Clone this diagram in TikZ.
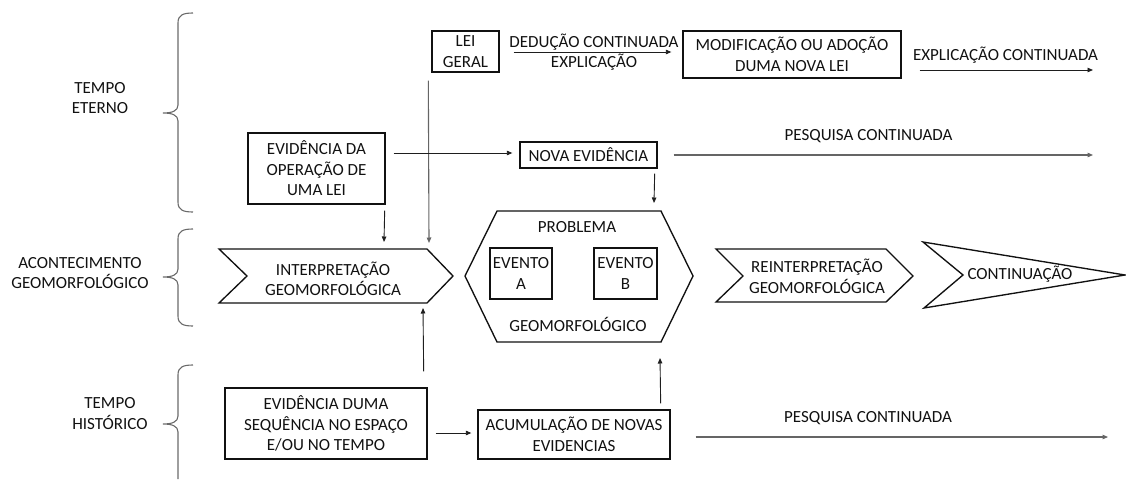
\documentclass[tikz,border=0pt]{standalone}
\usepackage{fontspec}
\setmainfont{Carlito}
\usetikzlibrary{arrows.meta,calc}

\definecolor{ink}{HTML}{111111}
\definecolor{wire}{HTML}{1E1E1E}
\definecolor{softwire}{HTML}{656565}
\definecolor{bracecol}{HTML}{6A6A6A}

% curly brace opening to the right: top y, tip y, bottom y
\newcommand\curlybrace[3]{%
  \draw[brace] (193,#1) .. controls (183,#1) and (178,#1+2) .. (178,#1+10)
    -- (178,#2-8) .. controls (178,#2-2) and (172,#2) .. (163,#2)
    .. controls (172,#2) and (178,#2+2) .. (178,#2+8)
    -- (178,#3-10) .. controls (178,#3-2) and (183,#3) .. (193,#3);}

\begin{document}
\begin{tikzpicture}[x=1pt,y=-1pt,
  every node/.style={font=\fontsize{17}{20.5}\selectfont, text=ink, align=center, inner sep=0pt},
  box/.style={draw=ink, line width=1.35pt},
  outline/.style={draw=ink, line width=1.35pt, line join=miter},
  link/.style={draw=wire, line width=0.9pt, -{Triangle[length=5.5pt,width=4.5pt]}},
  softlink/.style={draw=softwire, line width=1.1pt, -{Triangle[length=5.5pt,width=4.5pt]}},
  brace/.style={draw=bracecol, line width=1.1pt}]

\useasboundingbox (0,0) rectangle (1126,479);

% ---- time scales on the left
\curlybrace{13}{113}{212}
\curlybrace{229}{277}{326}
\draw[brace] (193,365) .. controls (183,365) and (178,367) .. (178,375)
  -- (178,416) .. controls (178,422) and (172,424) .. (163,424)
  .. controls (172,424) and (178,426) .. (178,432) -- (178,479);

\node (eterno) at (100,98) {TEMPO\\ETERNO};
\node (acont) at (80,273) {ACONTECIMENTO\\GEOMORFOLÓGICO};
\node (hist) at (110,413.5) {TEMPO\\HISTÓRICO};

% ---- boxes
\node[box, minimum width=137pt, minimum height=71pt] (evop) at (316.5,168.5) {EVIDÊNCIA DA\\OPERAÇÃO DE\\UMA LEI};
\node[box, minimum width=67pt, minimum height=41pt] (lei) at (465.5,51.5) {LEI\\GERAL};
\node[box, minimum width=218pt, minimum height=47pt] (modif) at (792,54.5) {MODIFICAÇÃO OU ADOÇÃO\\DUMA NOVA LEI};
\node[box, minimum width=137pt, minimum height=26pt] (nova) at (588.5,155) {NOVA EVIDÊNCIA};
\node[box, minimum width=62pt, minimum height=51pt] (evA) at (521,273.5) {EVENTO\\A};
\node[box, minimum width=63pt, minimum height=51pt] (evB) at (625.5,273.5) {EVENTO\\B};
\node[box, minimum width=202pt, minimum height=71pt] (duma) at (326,423.5) {EVIDÊNCIA DUMA\\SEQUÊNCIA NO ESPAÇO\\E/OU NO TEMPO};
\node[box, minimum width=192pt, minimum height=49pt] (acum) at (574,434.5) {ACUMULAÇÃO DE NOVAS\\EVIDENCIAS};

% ---- chevrons and the problem hexagon
\draw[outline] (219,249) -- (427,249) -- (453,276) -- (427,303) -- (219,303) -- (247,276) -- cycle;
\node (interp) at (333,279) {INTERPRETAÇÃO\\GEOMORFOLÓGICA};

\draw[outline] (497,211) -- (661,211) -- (693,276) -- (661,342) -- (497,342) -- (465,276) -- cycle;
\node (prob) at (577,227) {PROBLEMA};
\node (geo) at (578,324) {GEOMORFOLÓGICO};

\draw[outline] (716,249) -- (886,249) -- (913,276) -- (886,302) -- (716,302) -- (743,276) -- cycle;
\node (reinterp) at (817,276.5) {REINTERPRETAÇÃO\\GEOMORFOLÓGICA};

\draw[outline] (923,242) -- (1125,275) -- (924,308) -- (963,275) -- cycle;
\node (cont) at (1020,274) {CONTINUAÇÃO};

% ---- free ends of connectors
\coordinate (leiIn) at (429,243);
\coordinate (evopIn) at (384,242);
\coordinate (hexIn) at (654,203);
\coordinate (dumaIn) at (423,308);
\coordinate (hexUp) at (660,358);
\coordinate (explEnd) at (1093,70);
\coordinate (pesqEndA) at (1093,155);
\coordinate (pesqEndB) at (1108,437);

% ---- connectors
\draw[link] ($(lei.east)+(14,0.5)$) -- ($(modif.west)+(-11,-2.5)$);
\node (ded) at (594,42) {DEDUÇÃO CONTINUADA};
\node (expl) at (594,62) {EXPLICAÇÃO};

\draw[link] ($(modif.east)+(18,15.5)$) -- (explEnd);
\node (explc) at (1005.5,55) {EXPLICAÇÃO CONTINUADA};

\draw[softlink] ($(lei.south west)+(-3,8)$) -- (leiIn);
\draw[link] ($(evop.south east)+(-1,6)$) -- (evopIn);
\draw[link] ($(evop.east)+(8,-15.5)$) -- ($(nova.west)+(-7,-2)$);
\draw[link] ($(nova.south east)+(-3,5)$) -- (hexIn);

\draw[softlink] ($(nova.east)+(16,0)$) -- (pesqEndA);
\node (pesqA) at (868.5,136) {PESQUISA CONTINUADA};

\draw[link] ($(duma.north east)+(-4,-16)$) -- (dumaIn);
\draw[link] ($(duma.east)+(8,9.5)$) -- ($(acum.west)+(-6,-1.5)$);
\draw[link] ($(acum.north east)+(-10,-6)$) -- (hexUp);

\draw[softlink] ($(acum.east)+(25,2.5)$) -- (pesqEndB);
\node (pesqB) at (868,418) {PESQUISA CONTINUADA};

\end{tikzpicture}
\end{document}
